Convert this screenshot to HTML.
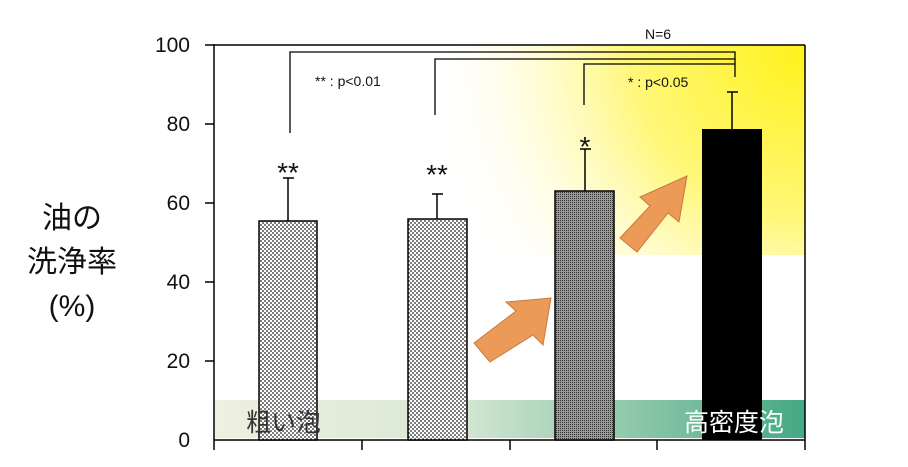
<!DOCTYPE html>
<html><head><meta charset="utf-8"><style>
body{margin:0;background:#fff;width:908px;height:462px;overflow:hidden}
</style></head><body>
<svg width="908" height="462" xmlns="http://www.w3.org/2000/svg" font-family="Liberation Sans, Noto Sans CJK JP, sans-serif">
<defs>
<radialGradient id="yg" cx="805" cy="45" r="390" gradientUnits="userSpaceOnUse">
<stop offset="0" stop-color="#fff21a"/><stop offset="0.45" stop-color="#fff77a"/><stop offset="1" stop-color="#fff" stop-opacity="0"/>
</radialGradient>
<linearGradient id="gg" x1="0" x2="1">
<stop offset="0" stop-color="#eef0e0"/><stop offset="0.4" stop-color="#d9e8d6"/><stop offset="0.6" stop-color="#a8d3b8"/><stop offset="1" stop-color="#44a983"/>
</linearGradient>
<pattern id="d1" width="4" height="4" patternUnits="userSpaceOnUse"><rect width="4" height="4" fill="#fff"/><circle cx="1" cy="1" r="0.9" fill="#222"/><circle cx="3" cy="3" r="0.9" fill="#222"/></pattern>
<pattern id="d2" width="2" height="2" patternUnits="userSpaceOnUse"><rect width="2" height="2" fill="#999"/><rect width="1" height="1" fill="#333"/></pattern>
</defs>
<rect x="440" y="45" width="365" height="210" fill="url(#yg)"/>
<rect x="215" y="400" width="590" height="38" fill="url(#gg)"/>
<!-- axes -->
<g stroke="#000" stroke-width="1.5" fill="none">
<line x1="214" y1="44" x2="214" y2="440"/>
<line x1="214" y1="440" x2="805" y2="440"/>
<line x1="214" y1="45" x2="805" y2="45"/>
<line x1="805" y1="45" x2="805" y2="440"/>
<line x1="205" y1="45" x2="214" y2="45"/><line x1="205" y1="124" x2="214" y2="124"/><line x1="205" y1="203" x2="214" y2="203"/><line x1="205" y1="282" x2="214" y2="282"/><line x1="205" y1="361" x2="214" y2="361"/>
<line x1="214" y1="440" x2="214" y2="450"/><line x1="362" y1="440" x2="362" y2="450"/><line x1="510" y1="440" x2="510" y2="450"/><line x1="657" y1="440" x2="657" y2="450"/><line x1="805" y1="440" x2="805" y2="450"/>
</g>
<g font-size="21" text-anchor="end" fill="#111">
<text x="190" y="52">100</text><text x="190" y="131">80</text><text x="190" y="210">60</text><text x="190" y="289">40</text><text x="190" y="368">20</text><text x="190" y="447">0</text>
</g>
<g font-size="30" fill="#111" text-anchor="middle">
<text x="72" y="228">油の</text><text x="72" y="272">洗浄率</text><text x="72" y="316">(%)</text>
</g>
<!-- error bars -->
<g stroke="#000" stroke-width="1.5">
<line x1="288" y1="223" x2="288" y2="178"/><line x1="283" y1="178" x2="294" y2="178"/>
<line x1="437" y1="221" x2="437" y2="194"/><line x1="432" y1="194" x2="443" y2="194"/>
<line x1="585" y1="191" x2="585" y2="149"/><line x1="580" y1="149" x2="591" y2="149"/>
<line x1="732" y1="130" x2="732" y2="92"/><line x1="727" y1="92" x2="738" y2="92"/>
</g>
<rect x="259" y="221" width="58" height="219" fill="url(#d1)" stroke="#000" stroke-width="1.5"/>
<rect x="408" y="219" width="59" height="221" fill="url(#d1)" stroke="#000" stroke-width="1.5"/>
<rect x="555" y="191" width="59" height="249" fill="url(#d2)" stroke="#000" stroke-width="1.5"/>
<rect x="702" y="129" width="60" height="311" fill="#000"/>
<text x="246" y="431" font-size="25" fill="#333">粗い泡</text>
<text x="684" y="431" font-size="25" fill="#fff">高密度泡</text>
<!-- brackets -->
<g stroke="#000" stroke-width="1.3" fill="none">
<polyline points="290,133 290,52 735,52 735,77"/>
<polyline points="435,115 435,59 735,59"/>
<polyline points="584,105 584,64 735,64"/>
</g>
<g font-size="14" fill="#111">
<text x="315" y="86">** : p&lt;0.01</text>
<text x="628" y="87">* : p&lt;0.05</text>
<text x="645" y="39">N=6</text>
</g>
<g font-size="28" fill="#111" text-anchor="middle">
<text x="288" y="182">**</text><text x="437" y="184">**</text><text x="585" y="156">*</text>
</g>
<!-- arrows -->
<g fill="#eb9a58" stroke="#c87a3c" stroke-width="1">
<polygon points="474,343 516,311 506,302 551,298 543,345 533,335 490,362"/>
<polygon points="620,238 650,206 640,197 687,176 679,222 668,213 637,252"/>
</g>
</svg>
</body></html>
